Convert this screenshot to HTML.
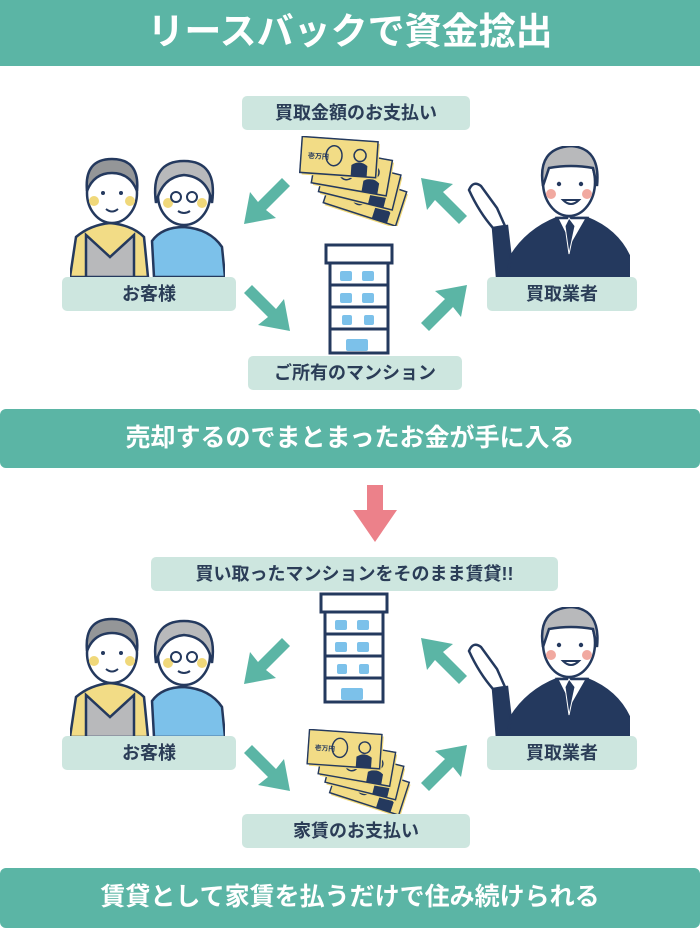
<!DOCTYPE html>
<html><head><meta charset="utf-8">
<style>
*{margin:0;padding:0;box-sizing:border-box}
body{width:700px;height:928px;background:#fff;position:relative;overflow:hidden;font-family:"Liberation Sans","Noto Sans CJK JP",sans-serif;font-weight:bold}
.ban{position:absolute;left:0;width:700px;background:#5bb5a5;color:#fff;text-align:center;border-radius:6px}
.lab{position:absolute;background:#cde6df;color:#2b3d57;text-align:center;border-radius:5px;font-size:18px;line-height:34px}
svg{position:absolute;left:0;top:0}
</style></head><body>
<div class="ban" style="top:0;height:66px;line-height:64px;font-size:37px;border-radius:0">リースバックで資金捻出</div>
<div class="ban" style="top:409px;height:59px;line-height:58px;font-size:25px">売却するのでまとまったお金が手に入る</div>
<div class="ban" style="top:868px;height:60px;line-height:58px;font-size:25px">賃貸として家賃を払うだけで住み続けられる</div>

<svg width="700" height="928" viewBox="0 0 700 928">
<defs>
<symbol id="arr" viewBox="0 0 46 46">
<polygon points="46,8 38,0 14,24 6,14 0,46 32,40 22,32" fill="#5bb5a5"/>
</symbol>
<symbol id="bld" viewBox="0 0 70 112">
<g fill="none" stroke="#24395e" stroke-width="3">
<rect x="2" y="2" width="66" height="18" fill="#fff"/>
<rect x="6" y="20" width="58" height="90"/>
<line x1="6" y1="42" x2="64" y2="42"/><line x1="6" y1="64" x2="64" y2="64"/><line x1="6" y1="86" x2="64" y2="86"/>
</g>
<g fill="#7cc1ea">
<rect x="16" y="28" width="12" height="10" rx="2"/><rect x="38" y="28" width="12" height="10" rx="2"/>
<rect x="16" y="50" width="12" height="10" rx="2"/><rect x="38" y="50" width="12" height="10" rx="2"/>
<rect x="18" y="72" width="10" height="10" rx="2"/><rect x="40" y="72" width="10" height="10" rx="2"/>
<rect x="22" y="96" width="22" height="12" rx="2"/>
</g>
</symbol>
<symbol id="bill" viewBox="0 0 80 40">
<rect x="3" y="3" width="76" height="36" fill="#f0d87a"/>
<rect x="1" y="1" width="76" height="36" fill="#f2dc86" stroke="#24395e" stroke-width="1.5"/>
<ellipse cx="34" cy="18" rx="8" ry="10" fill="none" stroke="#24395e" stroke-width="1.5"/>
<path d="M52 37 L52 26 Q60 20 68 26 L68 37 Z" fill="#24395e"/>
<circle cx="60" cy="16" r="6" fill="#f2dc86" stroke="#24395e" stroke-width="1.5"/>
<text x="8" y="22" font-size="7" fill="#24395e" font-family="Liberation Sans,Noto Sans CJK JP,sans-serif">壱万円</text>
</symbol>
<symbol id="money" viewBox="0 0 110 90">
<use href="#bill" x="0" y="0" width="80" height="40" transform="rotate(18 60 60) translate(28 40)"/>
<use href="#bill" x="0" y="0" width="80" height="40" transform="rotate(14 60 50) translate(22 28)"/>
<use href="#bill" x="0" y="0" width="80" height="40" transform="rotate(10 50 40) translate(14 16)"/>
<use href="#bill" x="0" y="0" width="80" height="40" transform="rotate(4 40 20) translate(2 2)"/>
</symbol>
<symbol id="cust" viewBox="0 0 155 120">
<g stroke="#24395e" stroke-width="2.5">
<path d="M0 120 L6 80 Q20 68 40 66 Q62 68 74 80 L78 120 Z" fill="#f2dc86"/>
<path d="M16 120 L16 78 L40 100 L64 78 L64 120 Z" fill="#b8b9bb"/>
<ellipse cx="42" cy="36" rx="25" ry="30" fill="#fff"/>
<path d="M17 34 Q14 2 42 2 Q70 2 67 34 Q60 16 42 16 Q24 16 17 34Z" fill="#949698"/>
<path d="M84 120 L82 84 Q92 70 114 70 Q140 72 152 90 L155 120 Z" fill="#7cc1ea"/>
<ellipse cx="114" cy="38" rx="26" ry="30" fill="#fff"/>
<path d="M86 46 Q80 4 114 4 Q148 4 142 46 Q138 20 114 18 Q92 20 86 46Z" fill="#b8b9bb"/>
</g>
<g fill="#f0d87a"><circle cx="24" cy="44" r="5"/><circle cx="60" cy="44" r="5"/><circle cx="98" cy="46" r="5"/><circle cx="132" cy="46" r="5"/></g>
<g fill="#24395e"><circle cx="33" cy="36" r="2"/><circle cx="51" cy="36" r="2"/></g>
<g fill="none" stroke="#24395e" stroke-width="2"><circle cx="106" cy="40" r="5"/><circle cx="122" cy="40" r="5"/><path d="M36 52 Q42 57 48 52"/><path d="M108 54 Q114 58 120 54"/></g>
</symbol>
<symbol id="man" viewBox="0 0 163 131">
<g stroke="#24395e" stroke-width="2.5">
<path d="M30 131 L26 82 L40 80 L46 131Z" fill="#24395e"/>
<path d="M40 131 L44 110 Q60 84 90 72 L120 72 Q150 84 162 110 L163 131Z" fill="#24395e"/>
<path d="M90 72 L104 100 L120 72Z" fill="#fff"/>
<path d="M2 44 Q6 34 14 40 L30 62 L38 80 L26 82 Q12 66 2 44Z" fill="#fff"/>
<ellipse cx="102" cy="36" rx="26" ry="34" fill="#fff"/>
<path d="M76 40 Q70 2 104 0 Q134 2 130 40 L126 22 Q104 18 82 22Z" fill="#b8b9bb"/>
</g>
<path d="M102 72 L98 80 L102 108 L108 80 Z" fill="#24395e" stroke="#fff" stroke-width="1"/>
<g fill="#f1a9a0"><circle cx="84" cy="48" r="5"/><circle cx="120" cy="48" r="5"/></g>
<g fill="#24395e"><circle cx="92" cy="38" r="2.2"/><circle cx="114" cy="38" r="2.2"/></g>
<path d="M96 54 Q104 62 112 54Z" fill="#fff" stroke="#24395e" stroke-width="2"/>
</symbol>
</defs>

<!-- top section -->
<use href="#cust" x="70" y="157" width="155" height="120"/>
<use href="#man" x="467" y="146" width="163" height="131"/>
<use href="#money" x="298" y="136" width="110" height="90"/>
<use href="#bld" x="324" y="243" width="70" height="112"/>
<use href="#arr" x="244" y="178" width="46" height="46"/>
<use href="#arr" x="421" y="178" width="46" height="46" transform="translate(0 402) scale(1 -1)"/>
<use href="#arr" x="244" y="285" width="46" height="46" transform="translate(534 0) scale(-1 1)"/>
<use href="#arr" x="421" y="285" width="46" height="46" transform="rotate(180 444 308)"/>

<!-- pink arrow -->
<polygon points="367,485 383,485 383,510 397,510 375,542 353,510 367,510" fill="#ec818a"/>

<!-- bottom section -->
<use href="#cust" x="70" y="617" width="155" height="120"/>
<use href="#man" x="467" y="607" width="163" height="131"/>
<use href="#bld" x="319" y="592" width="70" height="112"/>
<use href="#money" x="302" y="729" width="112" height="86"/>
<use href="#arr" x="244" y="638" width="46" height="46"/>
<use href="#arr" x="421" y="638" width="46" height="46" transform="translate(0 1322) scale(1 -1)"/>
<use href="#arr" x="244" y="745" width="46" height="46" transform="translate(534 0) scale(-1 1)"/>
<use href="#arr" x="421" y="745" width="46" height="46" transform="rotate(180 444 768)"/>
</svg>

<div class="lab" style="left:242px;top:96px;width:228px">買取金額のお支払い</div>
<div class="lab" style="left:62px;top:277px;width:174px">お客様</div>
<div class="lab" style="left:487px;top:277px;width:150px">買取業者</div>
<div class="lab" style="left:248px;top:356px;width:214px">ご所有のマンション</div>

<div class="lab" style="left:151px;top:557px;width:407px">買い取ったマンションをそのまま賃貸!!</div>
<div class="lab" style="left:62px;top:736px;width:174px">お客様</div>
<div class="lab" style="left:487px;top:736px;width:150px">買取業者</div>
<div class="lab" style="left:242px;top:814px;width:228px">家賃のお支払い</div>
</body></html>
